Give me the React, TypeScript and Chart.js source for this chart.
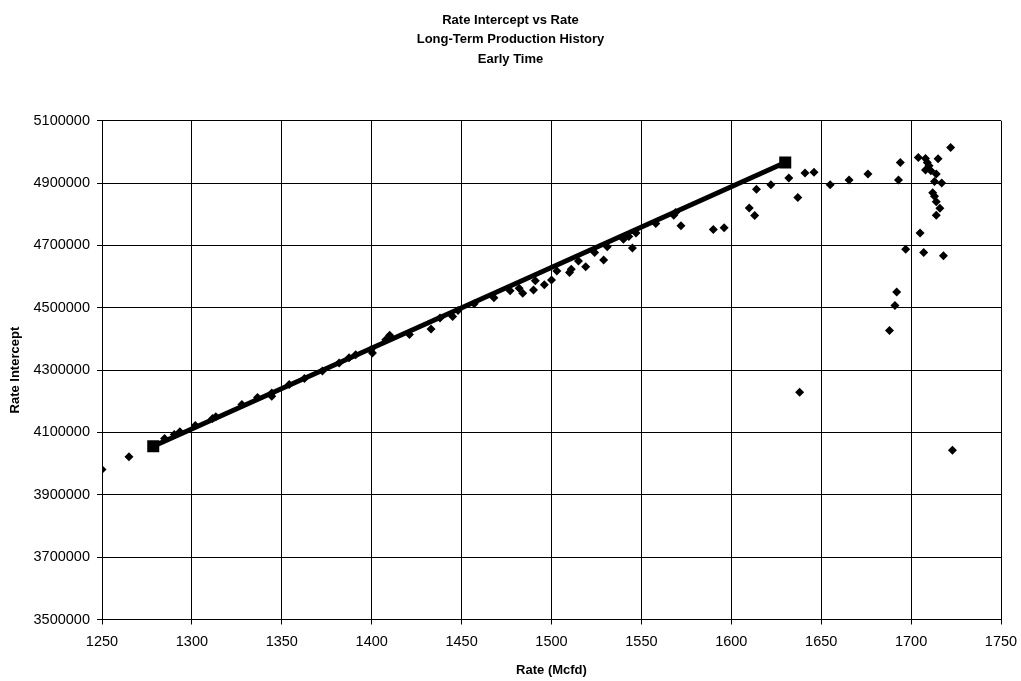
import React, { useEffect, useRef } from "react";
import { Chart, registerables } from "chart.js";

Chart.register(...registerables);

const titleLines = ["Rate Intercept vs Rate", "Long-Term Production History", "Early Time"];
const xAxisTitle = "Rate (Mcfd)";
const yAxisTitle = "Rate Intercept";

// Observed data: Rate (Mcfd)
const rateValues = [
  1250, 1265, 1284.8, 1290.2, 1293.3, 1301.9, 1311.5, 1313.3, 1327.8, 1336.5,
  1344.4, 1344.4, 1354.1, 1362.6, 1372.6, 1381.9, 1387.4, 1391.1, 1399.6, 1400.4,
  1407.8, 1410, 1421, 1433, 1438, 1445, 1448, 1457, 1468, 1477,
  1482, 1484, 1490, 1491, 1496, 1500, 1503, 1510, 1511, 1515,
  1519, 1524, 1529, 1531, 1540, 1543, 1545, 1547, 1558, 1568,
  1569, 1572, 1590, 1596, 1610, 1613, 1614, 1622, 1632, 1637,
  1638, 1641, 1646, 1655, 1665.5, 1676, 1688, 1691, 1692, 1693,
  1694, 1697, 1704, 1705, 1707, 1708, 1708, 1709, 1710, 1711,
  1712, 1713, 1713, 1714, 1714, 1714, 1715, 1716, 1717, 1718,
  1722, 1723,
];

// Observed data: Rate Intercept
const interceptValues = [
  3981600, 4022100, 4080800, 4093600, 4102100, 4122400, 4144800, 4150100, 4189600, 4212000,
  4226900, 4216300, 4253600, 4272800, 4297300, 4322900, 4340000, 4349600, 4365600, 4355000,
  4397600, 4412000, 4414000, 4432000, 4467000, 4472000, 4491000, 4513000, 4532000, 4555000,
  4563000, 4547000, 4557000, 4587000, 4574000, 4589000, 4618000, 4613000, 4624000, 4650000,
  4632000, 4677000, 4653000, 4696000, 4720000, 4729000, 4692000, 4740000, 4770000, 4797000,
  4806000, 4763000, 4751000, 4757000, 4820000, 4796000, 4880000, 4895000, 4916000, 4854000,
  4229000, 4932000, 4935000, 4895000, 4910000, 4929000, 4427000, 4507000, 4551000, 4910000,
  4966000, 4688000, 4982000, 4740000, 4677000, 4979000, 4942000, 4966000, 4956000, 4940000,
  4869000, 4858000, 4905000, 4929000, 4840000, 4797000, 4978000, 4819000, 4900000, 4667000,
  5014000, 4043000,
];

// Fitted straight line endpoints
const fitRate = [1278.5, 1630];
const fitIntercept = [4056000, 4966000];

// Axis ranges
const xRange = [1250, 1750, 50];
const yRange = [3500000, 5100000, 200000];

const FONT = "'Liberation Sans', Arial, sans-serif";

export default function App() {
  const ref = useRef<HTMLCanvasElement | null>(null);

  useEffect(() => {
    const canvas = ref.current;
    if (!canvas) return;
    const scatter = rateValues.map((x, i) => ({ x, y: interceptValues[i] }));
    const fit = fitRate.map((x, i) => ({ x, y: fitIntercept[i] }));

    const chart = new Chart(canvas, {
      type: "scatter",
      data: {
        datasets: [
          {
            label: "Fit",
            data: fit,
            showLine: true,
            borderColor: "#000",
            borderWidth: 5,
            backgroundColor: "#000",
            pointStyle: "rect",
            pointRadius: 8.5,
            pointBorderWidth: 0,
          },
          {
            label: "Data",
            data: scatter,
            showLine: false,
            backgroundColor: "#000",
            borderColor: "#000",
            pointStyle: "rectRot",
            pointRadius: 4.5,
            pointBorderWidth: 0,
          },
        ],
      },
      options: {
        animation: false,
        responsive: false,
        devicePixelRatio: 1,
        layout: { padding: { left: 0, right: 0, top: 0, bottom: 0 } },
        plugins: {
          legend: { display: false },
          tooltip: { enabled: false },
          title: {
            display: true,
            text: titleLines,
            color: "#000",
            font: { family: FONT, size: 13, weight: "bold", lineHeight: 1.5 },
            padding: { top: 10.25, bottom: 52 },
          },
        },
        scales: {
          x: {
            type: "linear",
            min: xRange[0],
            max: xRange[1],
            afterFit: (s: any) => {
              s.height = 61.5;
              s.paddingLeft = 0;
              s.paddingRight = 20;
            },
            ticks: {
              stepSize: xRange[2],
              color: "#000",
              font: { family: FONT, size: 14.5 },
              padding: 8.5,
              maxRotation: 0,
              callback: (v: any) => String(v),
            },
            grid: { color: "#000", lineWidth: 1, tickLength: 5, tickColor: "#000" },
            border: { color: "#000", width: 1 },
            title: {
              display: true,
              text: xAxisTitle,
              color: "#000",
              font: { family: FONT, size: 13, weight: "bold" },
              padding: { top: 0, bottom: 3 },
            },
          },
          y: {
            type: "linear",
            min: yRange[0],
            max: yRange[1],
            afterFit: (s: any) => {
              s.width = 102;
            },
            ticks: {
              stepSize: yRange[2],
              color: "#000",
              font: { family: FONT, size: 14.5 },
              padding: 7,
              callback: (v: any) => String(v),
            },
            grid: { color: "#000", lineWidth: 1, tickLength: 5, tickColor: "#000" },
            border: { color: "#000", width: 1 },
            title: {
              display: true,
              text: yAxisTitle,
              color: "#000",
              font: { family: FONT, size: 13, weight: "bold" },
              padding: { top: 7.2, bottom: 0 },
            },
          },
        },
      },
    });
    return () => chart.destroy();
  }, []);

  return (
    <div style={{ position: "fixed", left: 0, top: 0, width: 1021, height: 681, background: "#fff" }}>
      <canvas ref={ref} width={1021} height={681} style={{ width: 1021, height: 681, display: "block" }} />
    </div>
  );
}
